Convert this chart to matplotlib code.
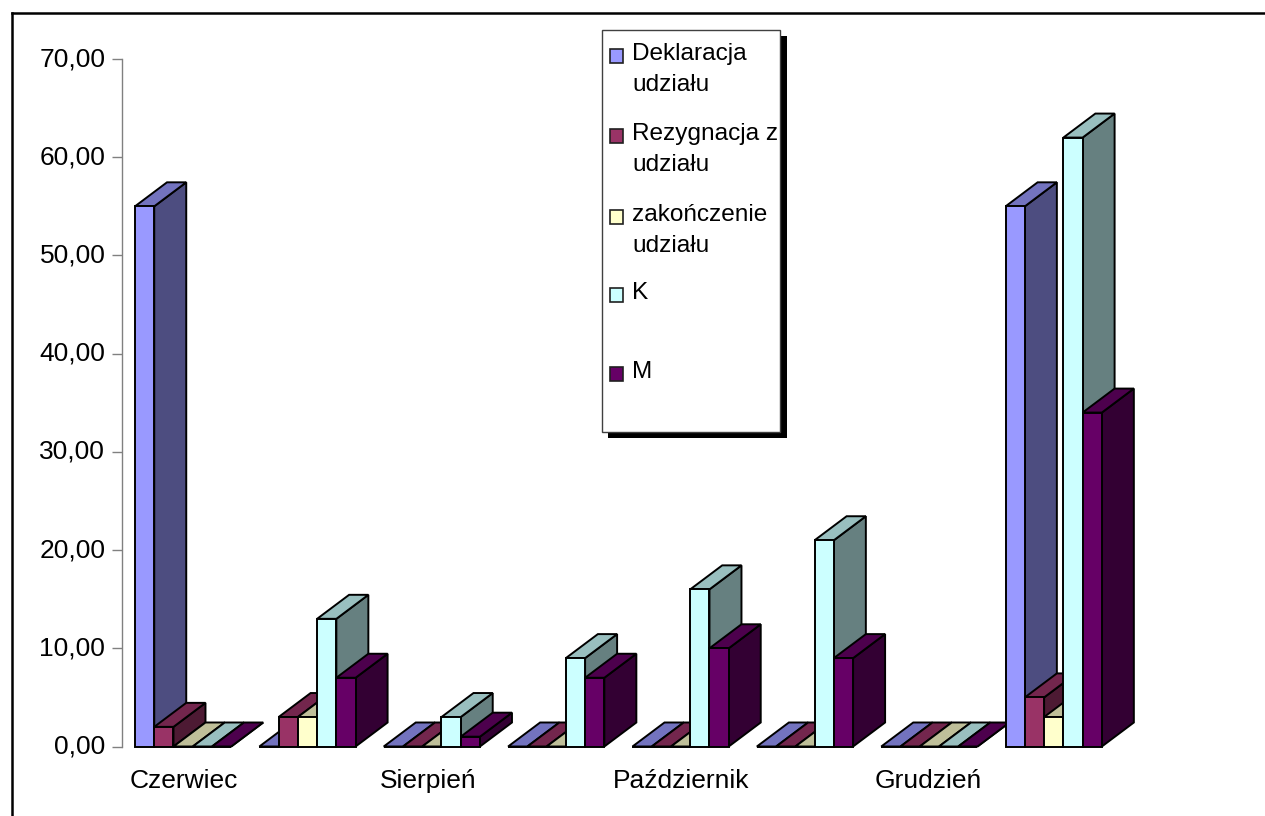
import numpy as np
import matplotlib
matplotlib.use("Agg")
import matplotlib.pyplot as plt
from matplotlib.patches import Polygon, Rectangle

plt.rcParams['font.family'] = ['Liberation Sans', 'DejaVu Sans']

miesiace = ['Czerwiec', '', 'Sierpień', '', 'Październik', '', 'Grudzień', '']
deklaracja = [55, 0, 0, 0, 0, 0, 0, 55]
rezygnacja = [2, 3, 0, 0, 0, 0, 0, 5]
zakonczenie = [0, 3, 0, 0, 0, 0, 0, 3]
k = [0, 13, 3, 9, 16, 21, 0, 62]
m = [0, 7, 1, 7, 10, 9, 0, 34]
y_ticks = [0, 10, 20, 30, 40, 50, 60, 70]
y_labels = ['0,00', '10,00', '20,00', '30,00', '40,00', '50,00', '60,00', '70,00']

serie = [deklaracja, rezygnacja, zakonczenie, k, m]
kolory = ['#9999FF', '#993366', '#FFFFCC', '#CCFFFF', '#660066']
legenda = [['Deklaracja', 'udziału'], ['Rezygnacja z', 'udziału'],
           ['zakończenie', 'udziału'], ['K'], ['M']]
legenda_y = [54, 134, 215, 293, 372]

W, H = 1265, 816
fig = plt.figure(figsize=(W / 100, H / 100), dpi=100)
ax = fig.add_axes([122 / W, 1 - 746.5 / H, 995 / W, 687.5 / H])
ax.set_xlim(0, 8)
ax.set_ylim(0, 70)

szer = 19.25 / 124.4
dx = 32 / 124.4
dy = 24 / 9.82
margines = 13 / 124.4


def ciemniej(kolor, f):
    rgb = np.array(matplotlib.colors.to_rgb(kolor))
    return tuple(rgb * f)


z = 3
for g in range(len(miesiace)):
    for s, wart in enumerate(serie):
        x0 = g + margines + s * szer
        v = wart[g]
        x1 = x0 + szer
        kol = kolory[s]
        ax.add_patch(Polygon([[x1, 0], [x1 + dx, dy], [x1 + dx, v + dy], [x1, v]],
                             fc=ciemniej(kol, 0.5), ec='black', lw=1.4, zorder=z, clip_on=False))
        ax.add_patch(Polygon([[x0, v], [x1, v], [x1 + dx, v + dy], [x0 + dx, v + dy]],
                             fc=ciemniej(kol, 0.75), ec='black', lw=1.4, zorder=z, clip_on=False))
        ax.bar(x0, v, szer, align='edge', color=kol, edgecolor='black', lw=1.4, zorder=z, clip_on=False)
        z += 1

for nazwa in ['top', 'right', 'bottom']:
    ax.spines[nazwa].set_visible(False)
ax.spines['left'].set_color('#808080')
ax.spines['left'].set_linewidth(1.0)
ax.set_yticks(y_ticks)
ax.set_yticklabels(y_labels, fontsize=19)
ax.tick_params(axis='y', length=7.5, width=1.0, color='#808080', pad=4.5)
for t in ax.get_yticklabels():
    t.set_verticalalignment('center')
    t.set_y(t.get_position()[1])
ax.set_xticks([0.494, 1.49, 2.46, 3.49, 4.494, 5.49, 6.483, 7.49])
ax.set_xticklabels(miesiace, fontsize=19)
ax.tick_params(axis='x', length=0, pad=16.5)

# ramka i legenda rysowane w pikselach
nak = fig.add_axes([0, 0, 1, 1], zorder=10)
nak.set_xlim(0, W)
nak.set_ylim(H, 0)
nak.axis('off')
nak.patch.set_alpha(0)
nak.plot([12, 12], [H, 13], color='black', lw=1.8, solid_capstyle='projecting')
nak.plot([12, W], [13, 13], color='black', lw=1.8, solid_capstyle='projecting')
nak.add_patch(Rectangle((608, 36), 179, 402, fc='black', ec='black', lw=0))
nak.add_patch(Rectangle((602, 30), 178, 401.5, fc='white', ec='#404040', lw=1.0))
for y, linie, kol in zip(legenda_y, legenda, kolory):
    nak.add_patch(Rectangle((609.5, y - 5), 13.5, 13.5, fc=kol, ec='#202020', lw=1.2))
    for i, linia in enumerate(linie):
        nak.text(632, y + i * 31, linia, fontsize=17.6, va='center', ha='left')

fig.savefig('out.png', dpi=100)
